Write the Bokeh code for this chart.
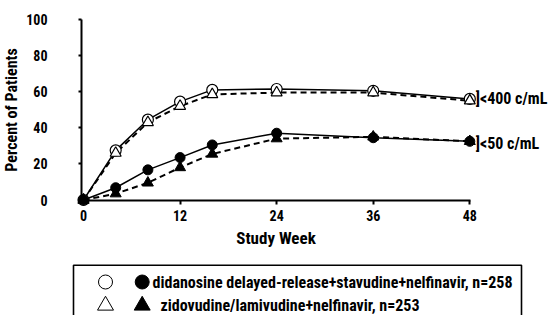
from bokeh.plotting import figure
from bokeh.models import Range1d, Label, FixedTicker
from bokeh.embed import file_html
from bokeh.resources import INLINE

weeks = [0, 4, 8, 12, 16, 24, 36, 48]
ddi_400 = [0, 27.5, 44.5, 54.5, 61, 61.5, 60.5, 56]
zdv_400 = [0, 26, 43, 52, 58.5, 59.5, 59.5, 55]
ddi_50 = [0, 6.8, 16.7, 23.5, 30.5, 37, 34.5, 32.5]
zdv_50 = [0, 3.5, 9.5, 18, 25.5, 34, 35, 32.5]
x_ticks = [0, 12, 24, 36, 48]
y_ticks = [0, 20, 40, 60, 80, 100]
legend_labels = ["didanosine delayed-release+stavudine+nelfinavir, n=258",
                 "zidovudine/lamivudine+nelfinavir, n=253"]
right_labels = ["]<400 c/mL", "]<50 c/mL"]
right_label_y = [56.2, 31.3]

FONT = "Roboto Condensed"
W, H = 553, 315
# pixel geometry of the chart area (figure-local pixels)
X0_PX, X_SCALE = 83.0, 8.048     # x = 0 position, px per week
Y0_PX, Y_SCALE = 199.5, 1.805    # y = 0 position, px per percent


def px2x(px):
    return (px - X0_PX) / X_SCALE


def px2y(py):
    return (Y0_PX - py) / Y_SCALE


p = figure(width=W, height=H, output_backend="svg", toolbar_location=None,
           x_range=Range1d(px2x(0), px2x(W)), y_range=Range1d(px2y(H), px2y(0)),
           min_border=0, min_border_left=0, min_border_right=0,
           min_border_top=0, min_border_bottom=0)
p.outline_line_color = None
p.grid.grid_line_color = None

for ax in (p.xaxis[0], p.yaxis[0]):
    ax.axis_line_width = 2
    ax.major_tick_line_width = 2
    ax.minor_tick_line_color = None
    ax.major_label_text_font = FONT
    ax.major_label_text_font_style = "bold"
    ax.major_label_text_font_size = "14px"
    ax.major_label_text_color = "black"
    ax.axis_label_text_font = FONT
    ax.axis_label_text_font_style = "bold"
    ax.axis_label_text_color = "black"

y_axis_pos = px2x(81)
p.xaxis.fixed_location = 0
p.xaxis.bounds = (y_axis_pos, px2x(470))
p.xaxis.ticker = FixedTicker(ticks=x_ticks)
p.xaxis.major_tick_in = 0
p.xaxis.major_tick_out = 4
p.xaxis.major_label_standoff = 6
p.xaxis.axis_label = "Study Week"
p.xaxis.axis_label_standoff = 3
p.xaxis.axis_label_text_font_size = "17px"

p.yaxis.fixed_location = y_axis_pos
p.yaxis.bounds = (0, 100)
p.yaxis.ticker = FixedTicker(ticks=y_ticks)
p.yaxis.major_tick_in = 0
p.yaxis.major_tick_out = 3
p.yaxis.major_label_standoff = 31
p.yaxis.axis_label = "Percent of Patients"
p.yaxis.axis_label_standoff = 2
p.yaxis.axis_label_text_font_size = "16px"

# lines
p.line(weeks, zdv_400, line_color="black", line_width=2, line_dash="6 4")
p.line(weeks, zdv_50, line_color="black", line_width=2, line_dash="6 4")
p.line(weeks, ddi_400, line_color="black", line_width=1.5)
p.line(weeks, ddi_50, line_color="black", line_width=1.5)

# markers
p.scatter(weeks, ddi_400, marker="circle", size=11, fill_color="white",
          line_color="black", line_width=1.2)
p.scatter(weeks, zdv_400, marker="triangle", size=11, fill_color="white",
          line_color="black", line_width=1.2)
p.scatter(weeks, ddi_50, marker="circle", size=10, fill_color="black",
          line_color="black")
p.scatter(weeks, zdv_50, marker="triangle", size=11, fill_color="black",
          line_color="black")

for txt, yv in zip(right_labels, right_label_y):
    p.add_layout(Label(x=48, y=yv, x_offset=6, text=txt, text_font=FONT,
                       text_font_style="bold", text_font_size="16px",
                       text_baseline="middle", text_color="black"))

# legend box (pixel layout converted to the plot's scales)
box_l, box_t, box_r, box_b = 73, 264.8, 521, 330
p.line([px2x(box_l), px2x(box_l), px2x(box_r), px2x(box_r)],
       [px2y(box_b), px2y(box_t), px2y(box_t), px2y(box_b)],
       line_color="black", line_width=1.6)
row_y = [281.5, 305]
col_open, col_fill = 105, 141.7
p.scatter([px2x(col_open)], [px2y(row_y[0])], marker="circle", size=14,
          fill_color="white", line_color="black", line_width=1)
p.scatter([px2x(col_fill)], [px2y(row_y[0])], marker="circle", size=14,
          fill_color="black", line_color="black")
p.scatter([px2x(col_open)], [px2y(row_y[1])], marker="triangle", size=16,
          fill_color="white", line_color="black", line_width=1)
p.scatter([px2x(col_fill)], [px2y(row_y[1])], marker="triangle", size=16,
          fill_color="black", line_color="black")
for txt, tx, ty in zip(legend_labels, [152, 160], row_y):
    p.add_layout(Label(x=px2x(tx), y=px2y(ty), text=txt, text_font=FONT,
                       text_font_style="bold", text_font_size="16px",
                       text_baseline="middle", text_color="black"))

open("out.html", "w").write(file_html(p, INLINE))
